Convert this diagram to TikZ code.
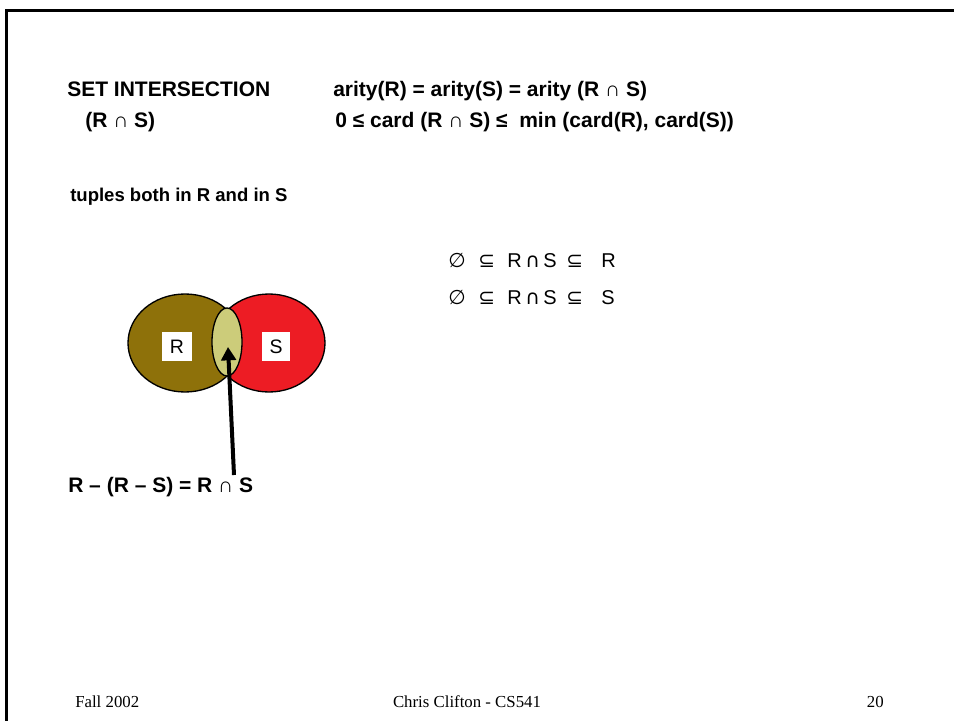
\documentclass[tikz,border=0pt]{standalone}
\usepackage{fontspec}
\setsansfont{Liberation Sans}
\newfontfamily\footfont{Liberation Serif}
\newfontfamily\symfont{DejaVu Sans}
\usetikzlibrary{shapes.geometric,arrows.meta}

\definecolor{rbrown}{RGB}{142,113,10}
\definecolor{sred}{RGB}{237,28,36}
\definecolor{lensolive}{RGB}{204,204,122}

% thin intersection sign inside bold lines
\newcommand{\capsign}{{\mdseries\char"2229}}
\newcommand{\glyph}[2]{\makebox[#1][l]{#2}}

\begin{document}
\begin{tikzpicture}[x=0.75pt, y=-0.75pt, every node/.style={inner sep=0pt},
	head/.style={anchor=base west, font=\sffamily\bfseries\fontsize{15.75}{18}\selectfont},
	rel/.style={anchor=base west, font=\sffamily\fontsize{15}{17}\selectfont},
	setshape/.style={ellipse, draw=black, line width=1pt},
	labbox/.style={fill=white, minimum height=21.75pt, font=\sffamily\fontsize{14.6}{16}\selectfont},
	foot/.style={font=\footfont\fontsize{12.6}{14}\selectfont}]
	\useasboundingbox (0,0) rectangle (954,721);
	\draw[line width=2pt] (6.5,721) -- (6.5,10.5) -- (954,10.5);
	% heading lines
	\node[head] (title) at (67,96) {SET INTERSECTION};
	\node[head] (arity) at (333,96) {arity(R) = arity(S) = arity (R \capsign\ S)};
	\node[head] (inter) at (85,127) {(R \capsign\ S)};
	\node[head] (card) at (335,127) {0 ≤ card (R \capsign\ S) ≤\ \ min (card(R), card(S))};
	\node[head, font=\sffamily\bfseries\fontsize{13.9}{16}\selectfont] (tuples) at (70,201) {tuples both in R and in S};
	% subset chains
	\node[rel] (subR) at (448,267) {\glyph{22.5pt}{\symfont ∅}\glyph{21.75pt}{\symfont ⊆}\glyph{13.5pt}{R}\glyph{13.5pt}{\symfont ∩}\glyph{17.25pt}{S}\glyph{26.25pt}{\symfont ⊆}R};
	\node[rel] (subS) at (448,304) {\glyph{22.5pt}{\symfont ∅}\glyph{21.75pt}{\symfont ⊆}\glyph{13.5pt}{R}\glyph{13.5pt}{\symfont ∩}\glyph{17.25pt}{S}\glyph{26.25pt}{\symfont ⊆}S};
	% venn diagram
	\node[setshape, fill=rbrown, minimum width=85.5pt, minimum height=73.5pt] (setR) at (185,343) {};
	\node[setshape, fill=sred, minimum width=84pt, minimum height=73.5pt] (setS) at (269,343) {};
	\node[setshape, fill=lensolive, minimum width=22.5pt, minimum height=51pt] (lens) at (227,342) {};
	\node[labbox, minimum width=22.5pt] (labR) at (177,346.5) {R};
	\node[labbox, minimum width=21pt] (labS) at (276,346.5) {S};
	\node[head] (diff) at (68,492) {R – (R – S) = R \capsign\ S};
	\coordinate (tail) at (234,475);
	\coordinate (tip) at (228,347);
	\draw[line width=3pt, -{Triangle[length=10pt,width=11pt]}] (tail) -- (tip);
	% footer
	\node[foot, anchor=base west] (date) at (75,707) {Fall 2002};
	\node[foot, anchor=base] (author) at (467,707) {Chris Clifton - CS541};
	\node[foot, anchor=base east] (page) at (884,707) {20};
\end{tikzpicture}
\end{document}
